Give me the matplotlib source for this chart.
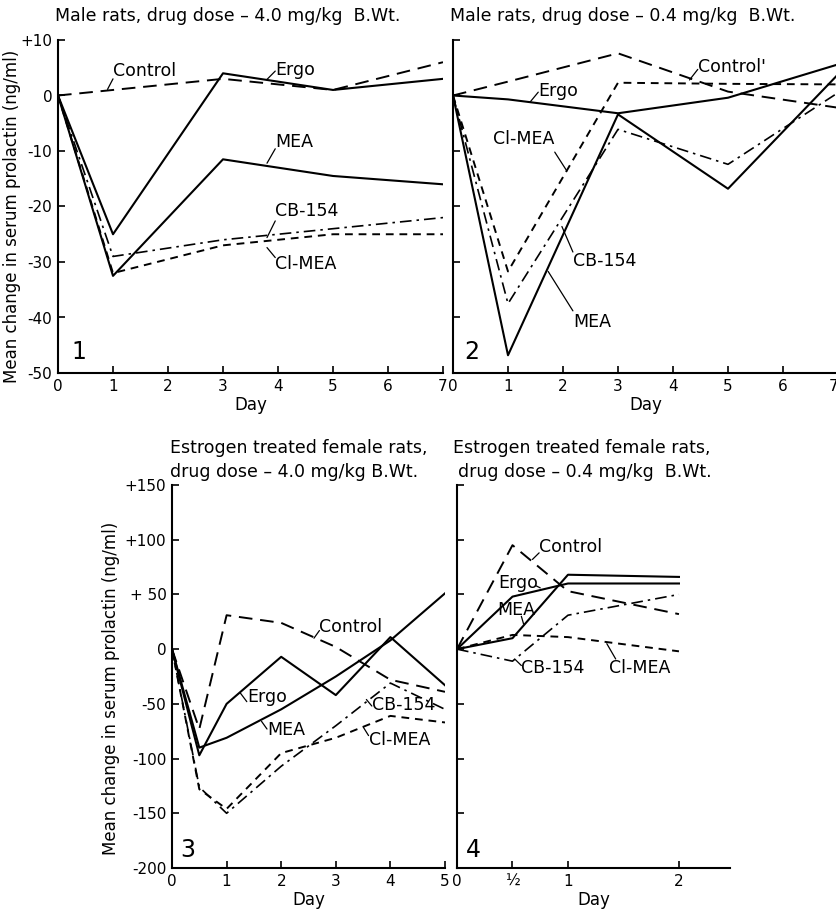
import matplotlib
matplotlib.use("Agg")
import matplotlib.pyplot as plt

plt.rcParams['font.family'] = ['DejaVu Sans']

# ---------------- data ----------------
# Panel 1: male rats, 4.0 mg/kg
days_1 = [0, 1, 3, 5, 7]
p1_control = [0, 1, 3, 1, 6]
p1_ergo = [0, -25, 4, 1, 3]
p1_mea = [0, -32.5, -11.5, -14.5, -16]
p1_cb154 = [0, -29, -26, -24, -22]
p1_clmea = [0, -32, -27, -25, -25]

# Panel 2: male rats, 0.4 mg/kg
days_2 = [0, 1, 3, 5, 7]
p2_control = [0, 2.5, 7.6, 0.7, -2.2]
p2_ergo = [0, -0.7, -3.2, -0.4, 5.6]
p2_mea = [0, -46.8, -3.4, -16.8, 3.8]
p2_cb154 = [0, -37.5, -6.1, -12.4, 0.5]
p2_clmea = [0, -31.7, 2.3, 2.1, 2]

# Panel 3: estrogen treated females, 4.0 mg/kg
days_3 = [0, 0.5, 1, 2, 3, 4, 5]
p3_control = [0, -73, 31, 24, 2, -28, -39]
p3_ergo = [0, -97, -50, -7, -42, 11, -33]
p3_mea = [0, -90, -81, -55, -25, 8, 51]
p3_cb154 = [0, -126, -150, -107, -70, -31, -55]
p3_clmea = [0, -128, -146, -95, -81, -61, -67]

# Panel 4: estrogen treated females, 0.4 mg/kg
days_4 = [0, 0.5, 1, 2]
p4_control = [0, 95, 53, 32]
p4_ergo = [0, 48, 60, 60]
p4_mea = [0, 10, 68, 66]
p4_cb154 = [0, -11, 31, 50]
p4_clmea = [0, 13, 11, -2]

ylabel = "Mean change in serum prolactin (ng/ml)"
styles = {
    "control": dict(color="black", lw=1.4, dashes=(7, 4)),
    "ergo": dict(color="black", lw=1.5, ls="-"),
    "mea": dict(color="black", lw=1.5, ls="-"),
    "cb154": dict(color="black", lw=1.2, dashes=(7, 3, 1.5, 3)),
    "clmea": dict(color="black", lw=1.4, dashes=(4, 3)),
}

W, H = 837, 913
fig = plt.figure(figsize=(W / 100, H / 100), dpi=100)


def rect(left, top, right, bottom):
    return [left / W, (H - bottom) / H, (right - left) / W, (bottom - top) / H]


def setup(ax):
    for s in ["top", "right"]:
        ax.spines[s].set_visible(False)
    ax.spines["left"].set_linewidth(1.5)
    ax.spines["bottom"].set_linewidth(1.5)
    ax.tick_params(direction="in", length=5, width=1.2, labelsize=11, pad=4)


def draw(ax, days, series):
    for key, vals in series.items():
        ax.plot(days, vals, **styles[key])


def label(ax, txt, xy_line, xy_text_end, xy_text, ha="left", va="center"):
    ax.annotate("", xy=xy_line, xytext=xy_text_end,
                arrowprops=dict(arrowstyle="-", lw=0.9, color="black",
                                shrinkA=0, shrinkB=0))
    ax.text(*xy_text, txt, fontsize=12.5, ha=ha, va=va)


# ---------- panel 1 ----------
ax1 = fig.add_axes(rect(58, 40, 443, 373))
draw(ax1, days_1, dict(control=p1_control, ergo=p1_ergo, mea=p1_mea,
                       cb154=p1_cb154, clmea=p1_clmea))
ax1.set_xlim(0, 7)
ax1.set_ylim(-50, 10)
ax1.set_xticks(range(8))
ax1.set_yticks([10, 0, -10, -20, -30, -40, -50])
ax1.set_yticklabels(["+10", "0", "-10", "-20", "-30", "-40", "-50"])
setup(ax1)
ax1.set_xlabel("Day", fontsize=12, labelpad=2)
ax1.set_ylabel(ylabel, fontsize=12)
ax1.yaxis.set_label_coords(-0.095, 0.47)
ax1.text(0.25, -47.5, "1", fontsize=17)
label(ax1, "Control", (0.9, 1.1), (1.0, 3.0), (1.0, 4.5))
label(ax1, "Ergo", (3.8, 2.9), (3.95, 4.4), (3.95, 4.6))
label(ax1, "MEA", (3.8, -12.2), (3.95, -9.6), (3.95, -8.3))
label(ax1, "CB-154", (3.8, -25.6), (3.95, -22.6), (3.95, -20.9))
label(ax1, "Cl-MEA", (3.8, -27.4), (3.95, -29.2), (3.95, -30.3))

# ---------- panel 2 ----------
ax2 = fig.add_axes(rect(453, 40, 838, 373))
draw(ax2, days_2, dict(control=p2_control, ergo=p2_ergo, mea=p2_mea,
                       cb154=p2_cb154, clmea=p2_clmea))
ax2.set_xlim(0, 7)
ax2.set_ylim(-50, 10)
ax2.set_xticks(range(8))
ax2.set_yticks([10, 0, -10, -20, -30, -40, -50])
ax2.set_yticklabels([])
setup(ax2)
ax2.get_xticklabels()[-1].set_ha("right")
ax2.set_xlabel("Day", fontsize=12, labelpad=2)
ax2.text(0.2, -47.5, "2", fontsize=17)
label(ax2, "Control'", (4.3, 2.8), (4.45, 4.7), (4.45, 5.2))
label(ax2, "Ergo", (1.4, -1.2), (1.55, 0.6), (1.55, 0.9))
label(ax2, "Cl-MEA", (2.07, -13.6), (1.85, -10.2), (1.85, -7.9), ha="right")
label(ax2, "CB-154", (1.98, -23.6), (2.18, -28.2), (2.18, -29.9))
label(ax2, "MEA", (1.73, -31.7), (2.18, -38.8), (2.18, -40.9))

# ---------- panel 3 ----------
ax3 = fig.add_axes(rect(172, 485, 445, 868))
draw(ax3, days_3, dict(control=p3_control, ergo=p3_ergo, mea=p3_mea,
                       cb154=p3_cb154, clmea=p3_clmea))
ax3.set_xlim(0, 5)
ax3.set_ylim(-200, 150)
ax3.set_xticks(range(6))
ax3.set_yticks([150, 100, 50, 0, -50, -100, -150, -200])
ax3.set_yticklabels(["+150", "+100", "+ 50", "0", "-50", "-100", "-150", "-200"])
setup(ax3)
ax3.set_xlabel("Day", fontsize=12, labelpad=2)
ax3.set_ylabel(ylabel, fontsize=12)
ax3.yaxis.set_label_coords(-0.19, 0.47)
ax3.text(0.15, -190, "3", fontsize=17)
label(ax3, "Control", (2.6, 10), (2.7, 17), (2.7, 20))
label(ax3, "Ergo", (1.25, -40), (1.37, -48), (1.37, -44))
label(ax3, "MEA", (1.64, -66), (1.74, -73), (1.74, -74))
label(ax3, "CB-154", (3.56, -46), (3.66, -52), (3.66, -51))
label(ax3, "Cl-MEA", (3.5, -71), (3.6, -79), (3.6, -83))

# ---------- panel 4 ----------
ax4 = fig.add_axes(rect(457, 485, 730, 868))
draw(ax4, days_4, dict(control=p4_control, ergo=p4_ergo, mea=p4_mea,
                       cb154=p4_cb154, clmea=p4_clmea))
ax4.set_xlim(0, 2.46)
ax4.set_ylim(-200, 150)
ax4.set_xticks([0, 0.5, 1, 2])
ax4.set_xticklabels(["0", "½", "1", "2"])
ax4.set_yticks([150, 100, 50, 0, -50, -100, -150, -200])
ax4.set_yticklabels([])
setup(ax4)
ax4.set_xlabel("Day", fontsize=12, labelpad=2)
ax4.text(0.08, -190, "4", fontsize=17)
label(ax4, "Control", (0.68, 82), (0.74, 88), (0.74, 93))
label(ax4, "Ergo", (0.75, 56), (0.71, 58), (0.37, 60))
label(ax4, "MEA", (0.6, 23), (0.58, 30), (0.36, 36))
label(ax4, "CB-154", (0.52, -9), (0.58, -15), (0.58, -17))
label(ax4, "Cl-MEA", (1.35, 5), (1.43, -9), (1.37, -17))

# ---------- titles ----------
tkw = dict(fontsize=12.5, ha="left", va="center")
fig.text(55 / W, 1 - 16 / H, "Male rats, drug dose – 4.0 mg/kg  B.Wt.", **tkw)
fig.text(450 / W, 1 - 16 / H, "Male rats, drug dose – 0.4 mg/kg  B.Wt.", **tkw)
fig.text(170 / W, 1 - 448 / H, "Estrogen treated female rats,", **tkw)
fig.text(170 / W, 1 - 472 / H, "drug dose – 4.0 mg/kg B.Wt.", **tkw)
fig.text(453 / W, 1 - 448 / H, "Estrogen treated female rats,", **tkw)
fig.text(458 / W, 1 - 472 / H, "drug dose – 0.4 mg/kg  B.Wt.", **tkw)

fig.savefig("out.png", dpi=100)
